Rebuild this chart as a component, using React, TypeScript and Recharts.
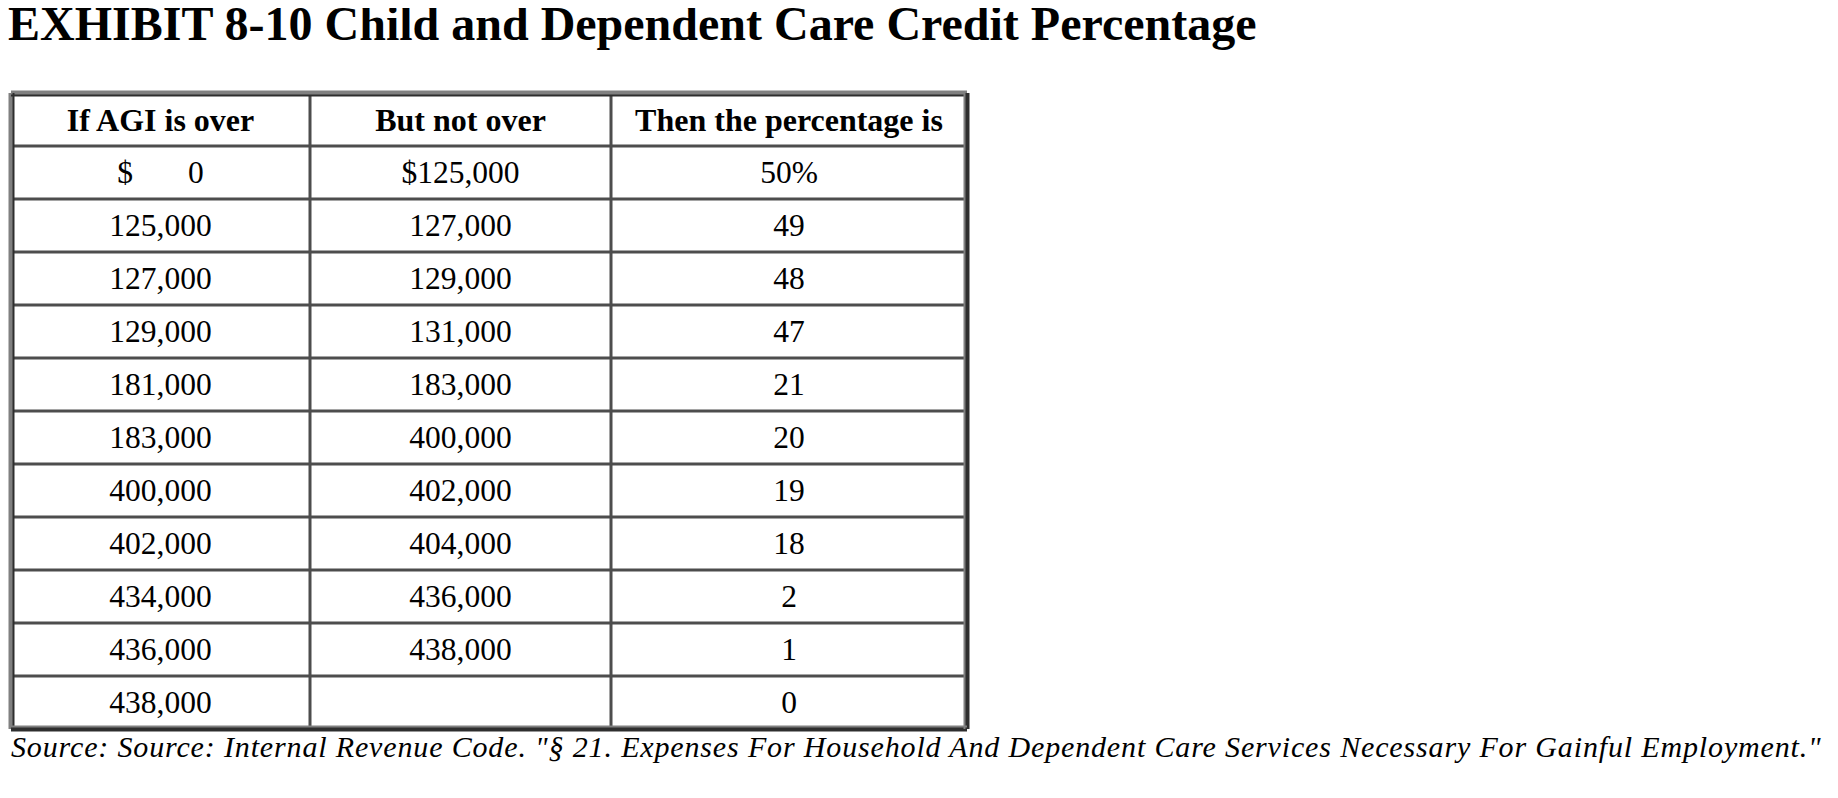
import React from 'react';
import { ScatterChart, Scatter, XAxis, YAxis, CartesianGrid, ReferenceLine } from 'recharts';

const title = 'EXHIBIT 8-10 Child and Dependent Care Credit Percentage';
const source =
  'Source: Source: Internal Revenue Code. "§ 21. Expenses For Household And Dependent Care Services Necessary For Gainful Employment."';

const headers = ['If AGI is over', 'But not over', 'Then the percentage is'];
const agiOver = [
  '$\u00a0\u00a0\u00a0\u00a0\u00a0\u00a0\u00a00',
  '125,000',
  '127,000',
  '129,000',
  '181,000',
  '183,000',
  '400,000',
  '402,000',
  '434,000',
  '436,000',
  '438,000',
];
const butNotOver = [
  '$125,000',
  '127,000',
  '129,000',
  '131,000',
  '183,000',
  '400,000',
  '402,000',
  '404,000',
  '436,000',
  '438,000',
  '',
];
const percentage = ['50%', '49', '48', '47', '21', '20', '19', '18', '2', '1', '0'];

// layout (pixels)
const colWidths = [299, 301, 356];
const colEdges = colWidths.reduce<number[]>((acc, w) => [...acc, acc[acc.length - 1] + w], [0]);
const tableWidth = colEdges[colEdges.length - 1];
const rowCount = agiOver.length + 1;
const rowEdges = Array.from({ length: rowCount + 1 }, (_, i) => i);
const FONT = '"Liberation Serif", "Times New Roman", serif';

type Cell = { x: number; y: number; label: string; bold: boolean };

const columns = [agiOver, butNotOver, percentage];
const cells: Cell[] = [];
headers.forEach((h, c) => {
  cells.push({ x: (colEdges[c] + colEdges[c + 1]) / 2, y: 0.5, label: h, bold: true });
});
columns.forEach((col, c) => {
  col.forEach((label, r) => {
    if (label) cells.push({ x: (colEdges[c] + colEdges[c + 1]) / 2, y: r + 1.5, label, bold: false });
  });
});

const CellText = (props: any) => {
  const { cx, cy, payload } = props;
  return (
    <text
      x={cx}
      y={cy}
      textAnchor="middle"
      dominantBaseline="central"
      fontFamily={FONT}
      fontSize={payload.bold ? 32 : 31.5}
      fontWeight={payload.bold ? 700 : 400}
      fill="#000"
    >
      {payload.label}
    </text>
  );
};

const LIGHT = '#808080';
const DARK = '#2e2e2e';
const INNER = '#4d4d4d';

export default function App() {
  return (
    <div style={{ position: 'relative', width: 1822, height: 782, background: '#fff' }}>
      <div
        style={{
          position: 'absolute',
          left: 0,
          top: -8,
          fontFamily: FONT,
          fontWeight: 700,
          fontSize: 48,
          lineHeight: 1,
          whiteSpace: 'nowrap',
          color: '#000',
        }}
      >
        {title}
      </div>
      <div style={{ position: 'absolute', left: 0, top: 0 }}>
        <ScatterChart width={1000} height={760} margin={{ left: 3, top: 85, right: 41, bottom: 39 }}>
          <XAxis type="number" dataKey="x" domain={[0, tableWidth]} ticks={colEdges} hide />
          <YAxis type="number" dataKey="y" domain={[0, rowCount]} ticks={rowEdges} reversed hide />
          <CartesianGrid stroke={INNER} strokeWidth={3} />
          <ReferenceLine x={0} stroke={LIGHT} strokeWidth={5} />
          <ReferenceLine y={0} stroke={LIGHT} strokeWidth={5} />
          <ReferenceLine x={tableWidth} stroke={DARK} strokeWidth={5} />
          <ReferenceLine y={rowCount} stroke={DARK} strokeWidth={5} />
          <ReferenceLine x={2.5} stroke={DARK} strokeWidth={2} />
          <ReferenceLine y={0.045} stroke={DARK} strokeWidth={2} />
          <ReferenceLine x={tableWidth - 2.5} stroke={LIGHT} strokeWidth={2} />
          <ReferenceLine y={rowCount - 0.045} stroke={LIGHT} strokeWidth={2} />
          <Scatter data={cells} shape={CellText} isAnimationActive={false} />
        </ScatterChart>
      </div>
      <div
        style={{
          position: 'absolute',
          left: 3,
          top: 724,
          fontFamily: FONT,
          fontStyle: 'italic',
          fontSize: 30,
          letterSpacing: 0.85,
          lineHeight: 1,
          whiteSpace: 'nowrap',
          color: '#000',
        }}
      >
        {source}
      </div>
    </div>
  );
}
